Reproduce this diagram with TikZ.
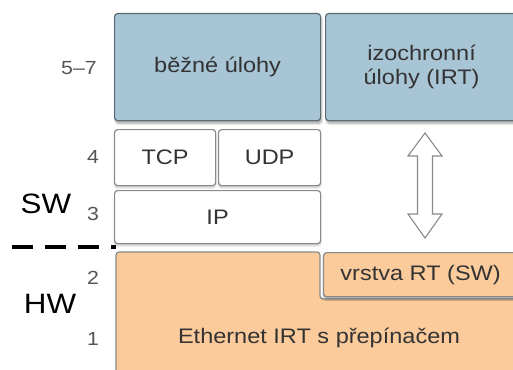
\documentclass[tikz,border=0pt]{standalone}
\usepackage{fontspec}
\setmainfont[FakeStretch=1.12]{Liberation Sans}
\usetikzlibrary{shadows.blur}
\definecolor{bluefill}{HTML}{A8C5D5}
\definecolor{blueline}{HTML}{5E6A72}
\definecolor{orangefill}{HTML}{FCCB9C}
\definecolor{greyline}{HTML}{8A8A8A}
\definecolor{txt}{HTML}{333333}
\definecolor{numtxt}{HTML}{555555}
\tikzset{
  box/.style={draw, line width=1.2pt, rounded corners=3pt, anchor=north west,
    inner sep=0pt, align=center, text=txt, font=\fontsize{21}{24}\selectfont},
  shade/.style={blur shadow={shadow xshift=1pt, shadow yshift=-3pt, shadow blur steps=6, shadow opacity=35}},
  lightshade/.style={blur shadow={shadow xshift=0pt, shadow yshift=-2pt, shadow blur steps=3, shadow opacity=25}},
  bluebox/.style={box, fill=bluefill, draw=blueline, shade},
  whitebox/.style={box, fill=white, draw=greyline, lightshade},
  orangebox/.style={box, fill=orangefill, draw=greyline},
  layernum/.style={text=numtxt, font=\fontsize{19}{21}\selectfont},
  side/.style={text=black, font=\fontsize{28}{30}\selectfont},
}
\begin{document}
\begin{tikzpicture}[x=1pt, y=-1pt]
\useasboundingbox (0,0) rectangle (513,369);

% application layer
\node[bluebox, minimum width=206pt, minimum height=107pt] (bezne) at (114,13) {běžné úlohy};
\node[bluebox, minimum width=192pt, minimum height=107pt] (izo) at (325,13) {izochronní\\úlohy (IRT)};

% transport and network layers
\node[whitebox, minimum width=101pt, minimum height=56pt] (tcp) at (114,129) {TCP};
\node[whitebox, minimum width=102pt, minimum height=56pt] (udp) at (218,129) {UDP};
\node[whitebox, minimum width=206pt, minimum height=53pt] (ip) at (114,190) {IP};

% hardware layers: notched Ethernet block and the RT layer
\draw[line width=1.2pt, draw=greyline, fill=orangefill, rounded corners=3pt]
  (116,252) -- (320,252) -- (320,299) -- (518,299) -- (518,374) -- (116,374) -- cycle;
\node[text=txt, font=\fontsize{21}{24}\selectfont] (eth) at (319,338) {Ethernet IRT s přepínačem};
\node[orangebox, minimum width=194pt, minimum height=44pt,
  blur shadow={shadow xshift=0pt, shadow yshift=-2pt, shadow blur steps=4, shadow opacity=40}]
  (rt) at (323,252) {vrstva RT (SW)};

% double arrow between the isochronous tasks and the RT layer
\coordinate (atop) at (425,133);
\coordinate (abot) at (425,238);
\draw[line width=1.1pt, draw=greyline, fill=white]
  (atop) -- ([xshift=17pt, yshift=-23pt]atop) -- ([xshift=7.5pt, yshift=-23pt]atop)
  -- ([xshift=7.5pt, yshift=24pt]abot) -- ([xshift=17pt, yshift=24pt]abot) -- (abot)
  -- ([xshift=-17pt, yshift=24pt]abot) -- ([xshift=-7.5pt, yshift=24pt]abot)
  -- ([xshift=-7.5pt, yshift=-23pt]atop) -- ([xshift=-17pt, yshift=-23pt]atop) -- cycle;

% layer numbers
\node[layernum] (n57) at (79,68) {5–7};
\node[layernum] (n4) at (93,157) {4};
\node[layernum] (n3) at (93,214) {3};
\node[layernum] (n2) at (93,278) {2};
\node[layernum] (n1) at (93,339) {1};

% SW / HW split
\node[side] (sw) at (46,204) {SW};
\node[side] (hw) at (50,304) {HW};
\coordinate (dashstart) at (12,247);
\draw[line width=3.2pt, dash pattern=on 21pt off 12pt] (dashstart) -- ([xshift=2pt]ip.south west |- dashstart);
\end{tikzpicture}
\end{document}
